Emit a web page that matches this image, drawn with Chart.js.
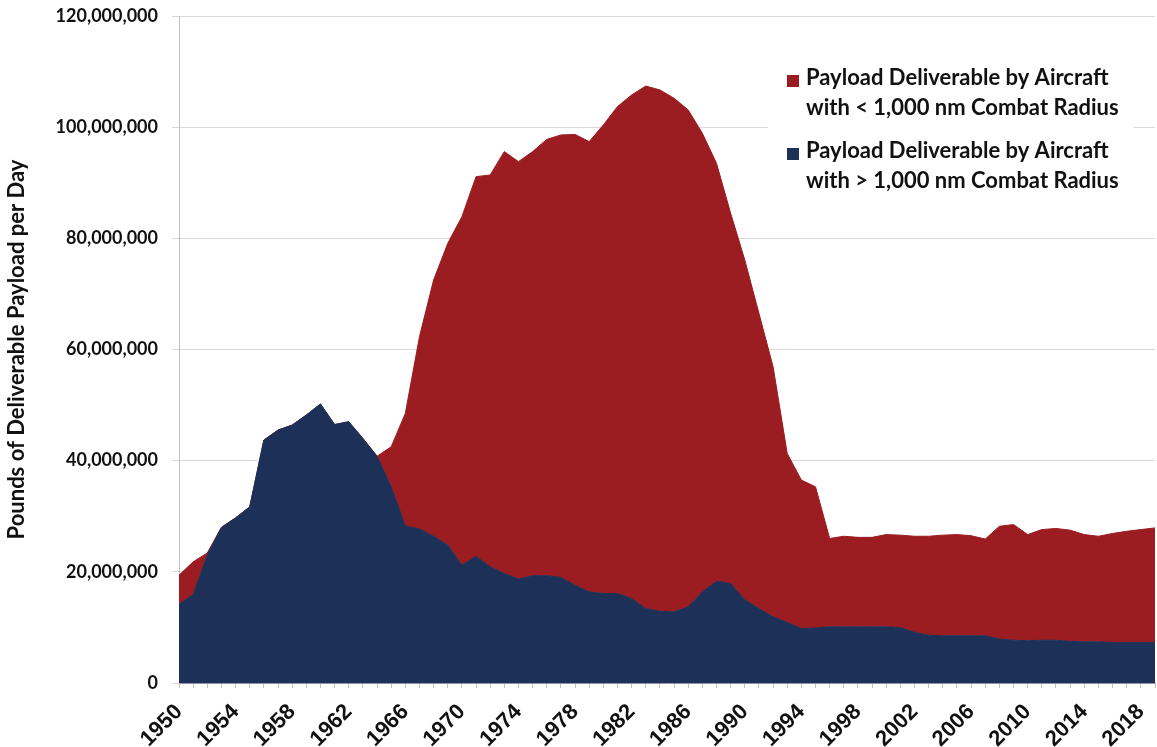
<!DOCTYPE html>
<html>
<head>
<meta charset="utf-8">
<script src="https://cdn.jsdelivr.net/npm/chart.js@4.4.1/dist/chart.umd.min.js"></script>
<style>
  html, body { margin: 0; padding: 0; background: #fff; }
  #wrap { width: 1157px; height: 747px; position: relative; }
</style>
</head>
<body>
<div id="wrap"><canvas id="chart"></canvas></div>
<script>
// years on the category axis
const years = [
  "1950","1951","1952","1953","1954","1955","1956","1957","1958","1959",
  "1960","1961","1962","1963","1964","1965","1966","1967","1968","1969",
  "1970","1971","1972","1973","1974","1975","1976","1977","1978","1979",
  "1980","1981","1982","1983","1984","1985","1986","1987","1988","1989",
  "1990","1991","1992","1993","1994","1995","1996","1997","1998","1999",
  "2000","2001","2002","2003","2004","2005","2006","2007","2008","2009",
  "2010","2011","2012","2013","2014","2015","2016","2017","2018","2019"
];
// only these years get a label on the x axis
const labelledYears = ["1950","1954","1958","1962","1966","1970","1974","1978","1982",
  "1986","1990","1994","1998","2002","2006","2010","2014","2018"];

// payload per day, millions of pounds
const longRange = [
  14.2, 15.9, 23.0, 28.0, 29.7, 31.7, 43.7, 45.5, 46.4, 48.2,
  50.2, 46.5, 47.0, 44.0, 40.8, 35.3, 28.3, 27.7, 26.4, 24.8,
  21.2, 22.8, 20.9, 19.7, 18.7, 19.3, 19.3, 19.0, 17.6, 16.4,
  16.1, 16.1, 15.2, 13.4, 12.9, 12.8, 13.7, 16.4, 18.3, 17.9,
  15.0, 13.4, 11.9, 10.9, 9.8, 9.9, 10.1, 10.1, 10.1, 10.1,
  10.1, 10.0, 9.1, 8.6, 8.5, 8.5, 8.5, 8.5, 7.9, 7.7,
  7.6, 7.7, 7.7, 7.5, 7.4, 7.4, 7.3, 7.3, 7.3, 7.3
];
const shortRange = [
  5.2, 5.9, 0.4, 0, 0, 0, 0, 0, 0, 0,
  0, 0, 0, 0, 0, 7.2, 20.2, 34.6, 46.1, 54.3,
  62.7, 68.3, 70.5, 75.9, 75.1, 76.3, 78.5, 79.6, 81.1, 81.0,
  84.3, 87.6, 90.6, 94.0, 93.8, 92.4, 89.4, 82.5, 75.2, 66.6,
  61.1, 53.1, 45.0, 30.4, 26.7, 25.4, 15.9, 16.3, 16.1, 16.1,
  16.6, 16.6, 17.3, 17.8, 18.1, 18.2, 18.0, 17.4, 20.3, 20.8,
  19.1, 19.9, 20.1, 20.0, 19.3, 19.0, 19.6, 20.0, 20.3, 20.6
];

const RED = "#9b1d21";
const BLUE = "#1c3058";

const legendItems = [
  { color: RED, lines: ["Payload Deliverable by Aircraft", "with < 1,000 nm Combat Radius"] },
  { color: BLUE, lines: ["Payload Deliverable by Aircraft", "with > 1,000 nm Combat Radius"] }
];

// legend drawn by hand since it has two-line labels
const boxLegend = {
  id: "boxLegend",
  afterDraw(chart) {
    const ctx = chart.ctx;
    ctx.save();
    ctx.fillStyle = "#fff";
    ctx.fillRect(768, 56, 366, 148);
    ctx.font = "bold 22px Lato";
    ctx.textBaseline = "alphabetic";
    ctx.textAlign = "left";
    legendItems.forEach((item, i) => {
      const top = 74 + i * 73;
      ctx.fillStyle = item.color;
      ctx.fillRect(787, top + 1, 12, 12);
      ctx.fillStyle = "#111";
      item.lines.forEach((line, j) => {
        ctx.fillText(line, 806, top + 11 + j * 30);
      });
    });
    ctx.restore();
  }
};

new Chart(document.getElementById("chart"), {
  type: "line",
  data: {
    labels: years,
    datasets: [
      {
        label: "Payload Deliverable by Aircraft with > 1,000 nm Combat Radius",
        data: longRange,
        backgroundColor: BLUE,
        borderColor: BLUE,
        borderWidth: 1,
        fill: "origin",
        pointRadius: 0,
        tension: 0
      },
      {
        label: "Payload Deliverable by Aircraft with < 1,000 nm Combat Radius",
        data: shortRange,
        backgroundColor: RED,
        borderColor: RED,
        borderWidth: 1,
        fill: "-1",
        pointRadius: 0,
        tension: 0
      }
    ]
  },
  options: {
    responsive: true,
    maintainAspectRatio: false,
    animation: false,
    layout: { padding: { top: 16, right: 2, left: 0, bottom: 0 } },
    plugins: {
      legend: { display: false },
      tooltip: { enabled: false }
    },
    scales: {
      x: {
        offset: false,
        grid: {
          drawOnChartArea: false,
          drawTicks: true,
          tickLength: 5,
          color: "#bfbfbf"
        },
        border: { color: "#8e96a8" },
        ticks: {
          autoSkip: false,
          minRotation: 45,
          maxRotation: 45,
          padding: 11,
          color: "#111",
          font: { family: "Liberation Sans", size: 22, weight: "bold" },
          callback: function (value, index) {
            const y = years[index];
            return labelledYears.includes(y) ? y : "";
          }
        },
        afterFit(scale) {
          scale.height = 64;
          scale.paddingLeft = 0;
          scale.paddingRight = 0;
        }
      },
      y: {
        stacked: true,
        min: 0,
        max: 120,
        grid: { color: "#d9d9d9", tickLength: 7 },
        border: { color: "#bfbfbf" },
        ticks: {
          stepSize: 20,
          padding: 14,
          color: "#111",
          font: { family: "Lato", size: 18, weight: "bold" },
          callback: v => (v * 1000000).toLocaleString("en-US")
        },
        title: {
          display: true,
          text: "Pounds of Deliverable Payload per Day",
          color: "#111",
          font: { family: "Lato", size: 22, weight: "bold" },
          padding: { top: 4, bottom: 0 }
        },
        afterFit(scale) {
          scale.width = 179;
          scale.paddingTop = 0;
          scale.paddingBottom = 0;
        }
      }
    }
  },
  plugins: [boxLegend]
});
</script>
</body>
</html>
